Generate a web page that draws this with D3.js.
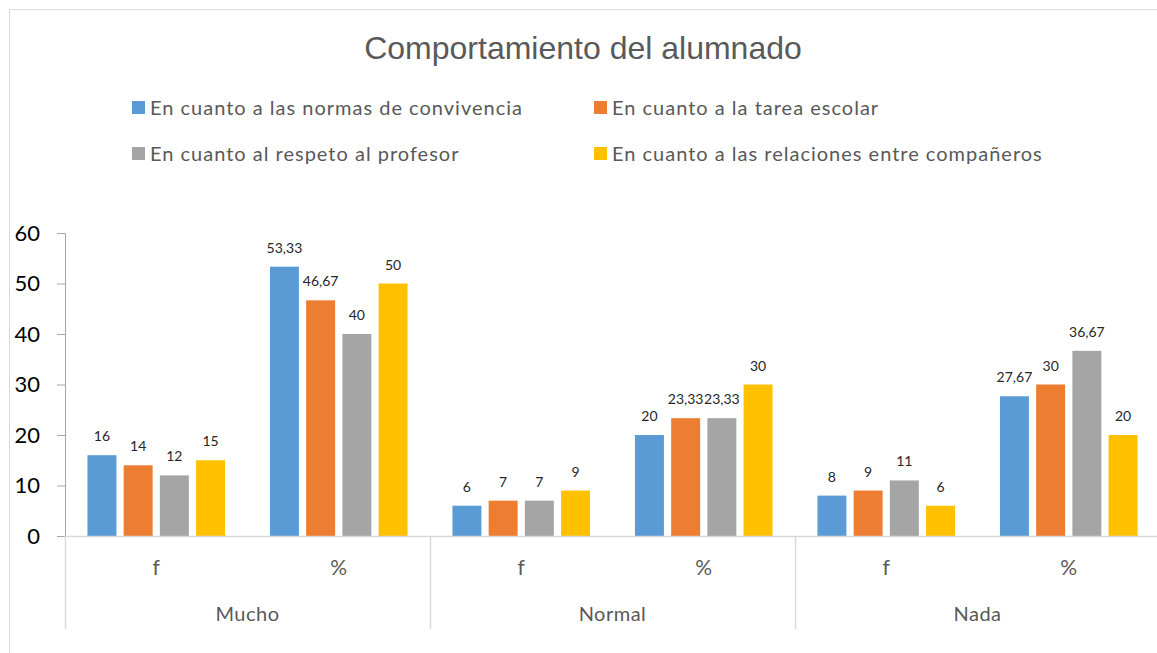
<!DOCTYPE html>
<html><head><meta charset="utf-8">
<script src="https://cdn.jsdelivr.net/npm/d3@7"></script>
<style>body{margin:0;background:#fff}svg{display:block}</style>
</head><body><svg id="c" width="1157" height="653"></svg>
<script>
const groups = ["Mucho", "Normal", "Nada"];
const subcats = ["f", "%"];
const series = ["En cuanto a las normas de convivencia", "En cuanto a la tarea escolar", "En cuanto al respeto al profesor", "En cuanto a las relaciones entre compañeros"];
const colors = ["#5B9BD5", "#ED7D31", "#A5A5A5", "#FFC000"];
const normas = [16, 53.33, 6, 20, 8, 27.67];
const tarea = [14, 46.67, 7, 23.33, 9, 30];
const respeto = [12, 40, 7, 23.33, 11, 36.67];
const relaciones = [15, 50, 9, 30, 6, 20];
const yTicks = [0, 10, 20, 30, 40, 50, 60];
const title = "Comportamiento del alumnado";

const values = [normas, tarea, respeto, relaciones];
const cats = [];
groups.forEach(g => subcats.forEach(s => cats.push(g + "|" + s)));

const svg = d3.select("#c");
const labelFont = "Lato, 'Open Sans', sans-serif";
const L = 65, R = 1160, T = 233, B = 536;

// border
svg.append("path").attr("d", "M9.5,660 V9.5 H1170").attr("fill", "none").attr("stroke", "#D9D9D9").attr("stroke-width", 1);

svg.append("text").attr("x", 583).attr("y", 59).attr("text-anchor", "middle")
  .attr("font-family", "'Liberation Sans', Arial, sans-serif").attr("font-size", 32).attr("fill", "#595959").text(title);

// legend
const legPos = [[132, 108], [594, 108], [132, 154], [594, 154]];
series.forEach((s, i) => {
  const g = svg.append("g").attr("transform", `translate(${legPos[i][0]},${legPos[i][1]})`);
  g.append("rect").attr("x", 0).attr("y", -7).attr("width", 13).attr("height", 13).attr("fill", colors[i]);
  g.append("text").attr("x", 18).attr("y", 7).attr("font-family", labelFont).attr("font-size", 20)
    .attr("letter-spacing", 1).attr("fill", "#595959").text(s);
});

const y = d3.scaleLinear().domain([0, 60]).range([B, T]);
const x0 = d3.scaleBand().domain(cats).range([L, R]).paddingInner(0).paddingOuter(0);
const x1 = d3.scaleBand().domain(d3.range(series.length)).range([0, x0.bandwidth()]).paddingInner(0.2).paddingOuter(0.62);

// y axis
const yAxis = d3.axisLeft(y).tickValues(yTicks).tickSize(8).tickPadding(17);
const ga = svg.append("g").attr("transform", `translate(${L},0)`).call(yAxis);
ga.select(".domain").attr("stroke", "#A6A6A6").attr("d", `M-8,${T+0.5}H0.5V${B}`);
ga.selectAll(".tick line").attr("stroke", "#A6A6A6");
ga.selectAll(".tick text").attr("font-family", labelFont).attr("font-size", 22).attr("fill", "#000");

// bars
const barData = [];
values.forEach((arr, si) => arr.forEach((v, ci) => barData.push({si, ci, v})));
svg.append("g").selectAll("rect").data(barData).join("rect")
  .attr("x", d => x0(cats[d.ci]) + x1(d.si))
  .attr("width", x1.bandwidth())
  .attr("y", d => y(d.v)).attr("height", d => B - y(d.v))
  .attr("fill", d => colors[d.si]);

const fmt = v => String(v).replace(".", ",");
svg.append("g").selectAll("text").data(barData).join("text")
  .attr("x", d => x0(cats[d.ci]) + x1(d.si) + x1.bandwidth() / 2)
  .attr("y", d => y(d.v) - 14)
  .attr("text-anchor", "middle").attr("font-family", labelFont).attr("font-size", 14).attr("fill", "#262626")
  .text(d => fmt(d.v));

// x axis line
svg.append("line").attr("x1", L).attr("x2", R).attr("y1", B + 0.5).attr("y2", B + 0.5).attr("stroke", "#D9D9D9").attr("stroke-width", 1.5);

// group separators
const xg = d3.scaleBand().domain(groups).range([L, R]);
svg.append("g").selectAll("line").data(d3.range(groups.length + 1)).join("line")
  .attr("x1", i => Math.round(L + i * xg.bandwidth()) + 0.5).attr("x2", i => Math.round(L + i * xg.bandwidth()) + 0.5)
  .attr("y1", B).attr("y2", 629).attr("stroke", "#D9D9D9").attr("stroke-width", 1.5);

// sub category labels
svg.append("g").selectAll("text").data(cats).join("text")
  .attr("x", d => x0(d) + x0.bandwidth() / 2).attr("y", 575).attr("text-anchor", "middle")
  .attr("font-family", labelFont).attr("font-size", 21).attr("fill", "#595959")
  .text(d => d.split("|")[1]);
svg.append("g").selectAll("text").data(groups).join("text")
  .attr("x", d => xg(d) + xg.bandwidth() / 2).attr("y", 621).attr("text-anchor", "middle")
  .attr("font-family", labelFont).attr("font-size", 20).attr("letter-spacing", 0.5).attr("fill", "#595959")
  .text(d => d);
</script></body></html>
